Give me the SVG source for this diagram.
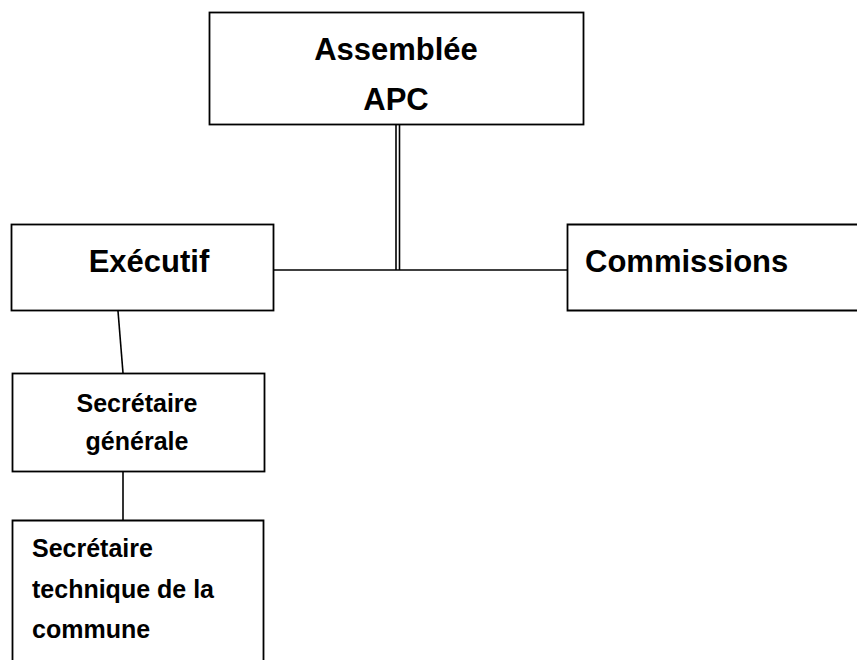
<svg xmlns="http://www.w3.org/2000/svg" width="857" height="660" viewBox="0 0 857 660">
<style>
.box{fill:#fff;stroke:#000;stroke-width:1.8}
.ln{fill:none;stroke:#000;stroke-width:1.6}
.big{font-family:"Liberation Sans",Arial,sans-serif;font-weight:bold;font-size:31px;fill:#000}
.sm{font-family:"Liberation Sans",Arial,sans-serif;font-weight:bold;font-size:25px;fill:#000}
</style>
<rect width="857" height="660" fill="#fff"/>
<g id="connectors">
<line class="ln" x1="396" y1="125" x2="396" y2="270"/>
<line class="ln" x1="399.5" y1="125" x2="399.5" y2="270"/>
<line class="ln" x1="274" y1="270" x2="567" y2="270"/>
<line class="ln" x1="118" y1="311" x2="123" y2="373"/>
<line class="ln" x1="123" y1="472" x2="123" y2="520"/>
</g>
<g id="assemblee">
<rect class="box" x="209.5" y="12.5" width="374" height="112"/>
<text class="big" x="396" y="60" text-anchor="middle">Assemblée</text>
<text class="big" x="396" y="110" text-anchor="middle">APC</text>
</g>
<g id="executif">
<rect class="box" x="11.5" y="224.5" width="262" height="86"/>
<text class="big" x="149" y="272" text-anchor="middle">Exécutif</text>
</g>
<g id="commissions">
<path class="box" d="M858,224.5 H567.5 V310.5 H858"/>
<text class="big" x="585" y="272">Commissions</text>
</g>
<g id="secretaire-generale">
<rect class="box" x="12.5" y="373.5" width="252" height="98"/>
<text class="sm" x="137" y="412" text-anchor="middle">Secrétaire</text>
<text class="sm" x="137" y="450" text-anchor="middle">générale</text>
</g>
<g id="secretaire-technique">
<path class="box" d="M12.5,661 V520.5 H263.5 V661"/>
<text class="sm" x="32" y="557">Secrétaire</text>
<text class="sm" x="32" y="598">technique de la</text>
<text class="sm" x="32" y="638">commune</text>
</g>
</svg>
